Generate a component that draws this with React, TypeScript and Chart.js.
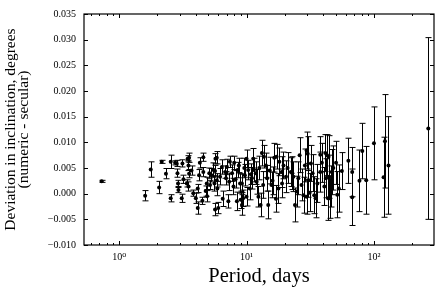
import React, { useEffect, useRef } from "react";
import { Chart, registerables } from "chart.js";
Chart.register(...registerables);

const periods = [
  0.73, 1.6, 1.77, 2.16, 2.06, 2.54, 2.33, 2.54, 2.75, 2.87, 2.9, 2.92, 2.83, 3.1, 3.14, 3.54, 3.45, 3.5, 3.54, 3.4,
  3.5, 3.82, 4.0, 4.14, 4.14, 4.24, 4.58, 4.58, 4.5, 4.78, 4.87, 5.17, 5.3, 5.1, 5.66, 5.5, 5.84, 5.7, 5.6, 5.84,
  5.66, 6.0, 6.2, 6.4, 6.8, 7.0, 7.2, 7.3, 7.4, 7.9, 8.0, 8.4, 8.5, 9.0, 8.9, 9.4, 9.2, 9.2, 10.0, 9.7,
  10.3, 10.6, 10.0, 11.3, 11.4, 11.0, 12.0, 12.4, 13.2, 13.7, 12.9, 13.5, 14.2, 14.8, 15.7, 16.5, 17.2, 17.0, 17.8, 18.1,
  18.9, 19.5, 20.4, 22.3, 22.9, 23.3, 24.0, 24.7, 26.1, 27.0, 28.0, 28.7, 29.6, 30.5, 29.6, 31.3, 32.0, 30.2, 34.0, 34.8,
  37.9, 37.9, 40.8, 42.8, 41.5, 44.0, 42.0, 44.5, 45.0, 43.6, 46.0, 46.6, 50.4, 51.5, 56.0, 63.0, 67.5, 67.5, 77.0, 81.0,
  87.0, 100, 119, 122, 130, 267, 3.2, 3.7, 4.3, 4.9, 5.9, 6.5, 6.9, 7.7, 8.2, 8.7, 9.6, 10.8, 11.8, 12.6,
  14.5, 15.2, 16.0, 19.0, 21.0, 25.5, 33.0, 36.0, 39.0, 48.0, 53.0,
];

const deviations = [
  0.0024, -0.0004, 0.0047, 0.0062, 0.0012, 0.0062, 0.0039, -0.0009, 0.006, 0.004, 0.002, 0.0007, 0.0059, -0.0009, 0.0059, 0.007, 0.0068, 0.0055, 0.0039, 0.002,
  0.0014, 0.0001, -0.0009, -0.0028, 0.001, 0.0036, 0.0042, 0.0071, -0.0014, 0.0005, 0.002, 0.0017, 0.0036, 0.004, 0.0044, 0.0046, 0.007, 0.0068, 0.002, 0.0026,
  -0.0031, -0.0028, 0.0033, 0.0052, 0.0042, 0.0052, -0.0015, 0.0023, 0.0062, 0.0014, 0.006, -0.0015, 0.0046, -0.0012, 0.002, -0.0009, 0.002, -0.0022, 0.0068, 0.0036,
  0.0046, 0.001, -0.0006, 0.0068, 0.0046, 0.003, 0.0023, -0.0006, 0.0079, 0.0072, -0.0022, 0.0017, 0.0055, -0.0022, 0.0017, 0.007, 0.0072, -0.001, 0.001, 0.0062,
  0.0042, 0.0055, 0.0033, 0.0042, 0.004, 0.0033, -0.0022, 0.0004, 0.0075, 0.0017, -0.0003, 0.0055, 0.0084, 0.0026, -0.0006, 0.0002, 0.0059, 0.0078, -0.0003, -0.0009,
  0.0076, 0.0042, 0.0014, 0.0075, 0.0079, 0.0072, 0.003, 0.0033, -0.0009, -0.0009, 0.0014, 0.0042, 0.006, -0.0002, 0.0044, 0.0064, 0.0042, -0.0007, 0.0025, 0.0083,
  0.0026, 0.0098, 0.0032, 0.0102, 0.0055, 0.0127, 0.0028, 0.0045, 0.006, -0.0005, 0.001, -0.001, 0.003, 0.004, 0.0028, 0.0055, 0.005, 0.0038, 0.004, 0.005,
  0.003, 0.0045, 0.0025, 0.002, 0.005, 0.003, 0.004, 0.002, 0.006, 0.005, 0.001,
];

const errors = [
  0.0002, 0.001, 0.0015, 0.0003, 0.0012, 0.0013, 0.001, 0.0007, 0.0004, 0.0008, 0.0006, 0.0005, 0.0006, 0.0008, 0.0007, 0.0009, 0.0006, 0.001, 0.0008, 0.0007,
  0.0009, 0.0006, 0.001, 0.0012, 0.0008, 0.0011, 0.0009, 0.0008, 0.0007, 0.001, 0.0012, 0.0009, 0.0013, 0.001, 0.0011, 0.0014, 0.0012, 0.001, 0.0015, 0.0013,
  0.0012, 0.0011, 0.0016, 0.0014, 0.0012, 0.0015, 0.0013, 0.0017, 0.0011, 0.0016, 0.0013, 0.0018, 0.0015, 0.0017, 0.0019, 0.0016, 0.0018, 0.002, 0.0017, 0.0021,
  0.0019, 0.0022, 0.0018, 0.002, 0.0023, 0.0021, 0.0024, 0.002, 0.0025, 0.0022, 0.0023, 0.0026, 0.0024, 0.0027, 0.0025, 0.0028, 0.0024, 0.0026, 0.0029, 0.0027,
  0.003, 0.0026, 0.0031, 0.0028, 0.0032, 0.0029, 0.0033, 0.003, 0.0034, 0.0031, 0.0035, 0.0032, 0.0036, 0.0033, 0.0034, 0.0037, 0.0035, 0.0033, 0.0036, 0.0038,
  0.0035, 0.0039, 0.0037, 0.004, 0.0036, 0.0041, 0.0038, 0.0042, 0.0039, 0.0043, 0.004, 0.0044, 0.0042, 0.0045, 0.0036, 0.0044, 0.0048, 0.0055, 0.006, 0.0054,
  0.0066, 0.0071, 0.0078, 0.0091, 0.0095, 0.0177, 0.0008, 0.0009, 0.001, 0.0011, 0.0014, 0.0015, 0.0013, 0.0016, 0.0017, 0.0014, 0.0019, 0.002, 0.0022, 0.0023,
  0.0025, 0.0026, 0.0027, 0.0028, 0.003, 0.0032, 0.0036, 0.0037, 0.0038, 0.0043, 0.0046,
];

const yTickValues = [-0.01, -0.005, 0, 0.005, 0.01, 0.015, 0.02, 0.025, 0.03, 0.035];
const xMajorTicks = [1, 10, 100];
const xTickLabels = ["10\u2070", "10\u00B9", "10\u00B2"];
const xMinorTicks = [0.6, 0.7, 0.8, 0.9, 2, 3, 4, 5, 6, 7, 8, 9, 20, 30, 40, 50, 60, 70, 80, 90, 200];

const SERIF = "'Liberation Serif', 'DejaVu Serif', serif";

const errorBarPlugin = {
  id: "errorBars",
  beforeDatasetsDraw(chart: any) {
    const { ctx, chartArea, scales } = chart;
    const xs = scales.x;
    const ys = scales.y;
    ctx.save();
    ctx.beginPath();
    ctx.rect(chartArea.left, chartArea.top, chartArea.right - chartArea.left, chartArea.bottom - chartArea.top);
    ctx.clip();
    ctx.strokeStyle = "#000";
    ctx.lineWidth = 1;
    for (let i = 0; i < periods.length; i++) {
      const px = Math.round(xs.getPixelForValue(periods[i])) + 0.5;
      const yTop = ys.getPixelForValue(deviations[i] + errors[i]);
      const yBot = ys.getPixelForValue(deviations[i] - errors[i]);
      ctx.beginPath();
      ctx.moveTo(px, yTop);
      ctx.lineTo(px, yBot);
      ctx.moveTo(px - 3, yTop);
      ctx.lineTo(px + 3, yTop);
      ctx.moveTo(px - 3, yBot);
      ctx.lineTo(px + 3, yBot);
      ctx.stroke();
    }
    ctx.restore();
  },
};

const framePlugin = {
  id: "frameTicks",
  afterDraw(chart: any) {
    const { ctx, chartArea, scales } = chart;
    const { left, right, top, bottom } = chartArea;
    ctx.save();
    ctx.strokeStyle = "#000";
    ctx.lineWidth = 1;
    ctx.beginPath();
    const drawX = (v: number, len: number) => {
      const px = Math.round(scales.x.getPixelForValue(v)) + 0.5;
      ctx.moveTo(px, bottom);
      ctx.lineTo(px, bottom - len);
      ctx.moveTo(px, top);
      ctx.lineTo(px, top + len);
    };
    xMajorTicks.forEach((v) => drawX(v, 4));
    xMinorTicks.forEach((v) => drawX(v, 2));
    yTickValues.forEach((v) => {
      const py = Math.round(scales.y.getPixelForValue(v)) + 0.5;
      ctx.moveTo(left, py);
      ctx.lineTo(left + 4, py);
      ctx.moveTo(right, py);
      ctx.lineTo(right - 4, py);
    });
    ctx.stroke();
    ctx.lineWidth = 1.2;
    ctx.strokeRect(left, top, right - left, bottom - top);
    ctx.restore();
  },
};

export default function App() {
  const ref = useRef<HTMLCanvasElement>(null);
  useEffect(() => {
    if (!ref.current) return;
    const chart = new Chart(ref.current, {
      type: "scatter",
      data: {
        datasets: [
          {
            data: periods.map((p, i) => ({ x: p, y: deviations[i] })),
            backgroundColor: "#000",
            borderColor: "#000",
            pointRadius: 2,
            pointBorderWidth: 0,
          },
        ],
      },
      options: {
        responsive: false,
        animation: false,
        devicePixelRatio: 1,
        layout: { padding: { top: 12, right: 9, left: 0, bottom: 0 } },
        plugins: { legend: { display: false }, tooltip: { enabled: false } },
        scales: {
          x: {
            type: "logarithmic",
            min: 0.53,
            max: 296,
            afterBuildTicks: (scale: any) => {
              scale.ticks = xMajorTicks.map((v) => ({ value: v }));
            },
            afterFit: (scale: any) => {
              scale.height = 50;
            },
            grid: { display: false, drawTicks: false },
            border: { display: false },
            ticks: {
              autoSkip: false,
              maxRotation: 0,
              padding: 6,
              color: "#000",
              font: { family: SERIF, size: 10 },
              callback: (v: any) => {
                const idx = xMajorTicks.indexOf(Number(v));
                return idx >= 0 ? xTickLabels[idx] : "";
              },
            },
            title: {
              display: true,
              text: "Period, days",
              color: "#000",
              font: { family: SERIF, size: 20.5 },
              padding: { top: 0, bottom: 6.5 },
            },
          },
          y: {
            type: "linear",
            min: -0.01,
            max: 0.035,
            afterBuildTicks: (scale: any) => {
              scale.ticks = yTickValues.map((v) => ({ value: v }));
            },
            afterFit: (scale: any) => {
              scale.width = 84;
            },
            grid: { display: false, drawTicks: false },
            border: { display: false },
            ticks: {
              autoSkip: false,
              padding: 8,
              color: "#000",
              font: { family: SERIF, size: 10 },
              callback: (v: any) => {
                const n = Number(v);
                const s = Math.abs(n).toFixed(3);
                return n < -1e-9 ? "\u2212" + s : s;
              },
            },
            title: {
              display: true,
              text: ["Deviation in inclination, degrees", "(numeric - secular)"],
              color: "#000",
              font: { family: SERIF, size: 15.5, lineHeight: 0.86 },
              padding: { top: 4.3, bottom: 0 },
            },
          },
        },
      },
      plugins: [errorBarPlugin, framePlugin],
    } as any);
    return () => chart.destroy();
  }, []);
  return (
    <div style={{ position: "fixed", left: 0, top: 0, width: 443, height: 295, background: "#fff" }}>
      <canvas ref={ref} width={443} height={295} style={{ width: 443, height: 295, display: "block" }} />
    </div>
  );
}
